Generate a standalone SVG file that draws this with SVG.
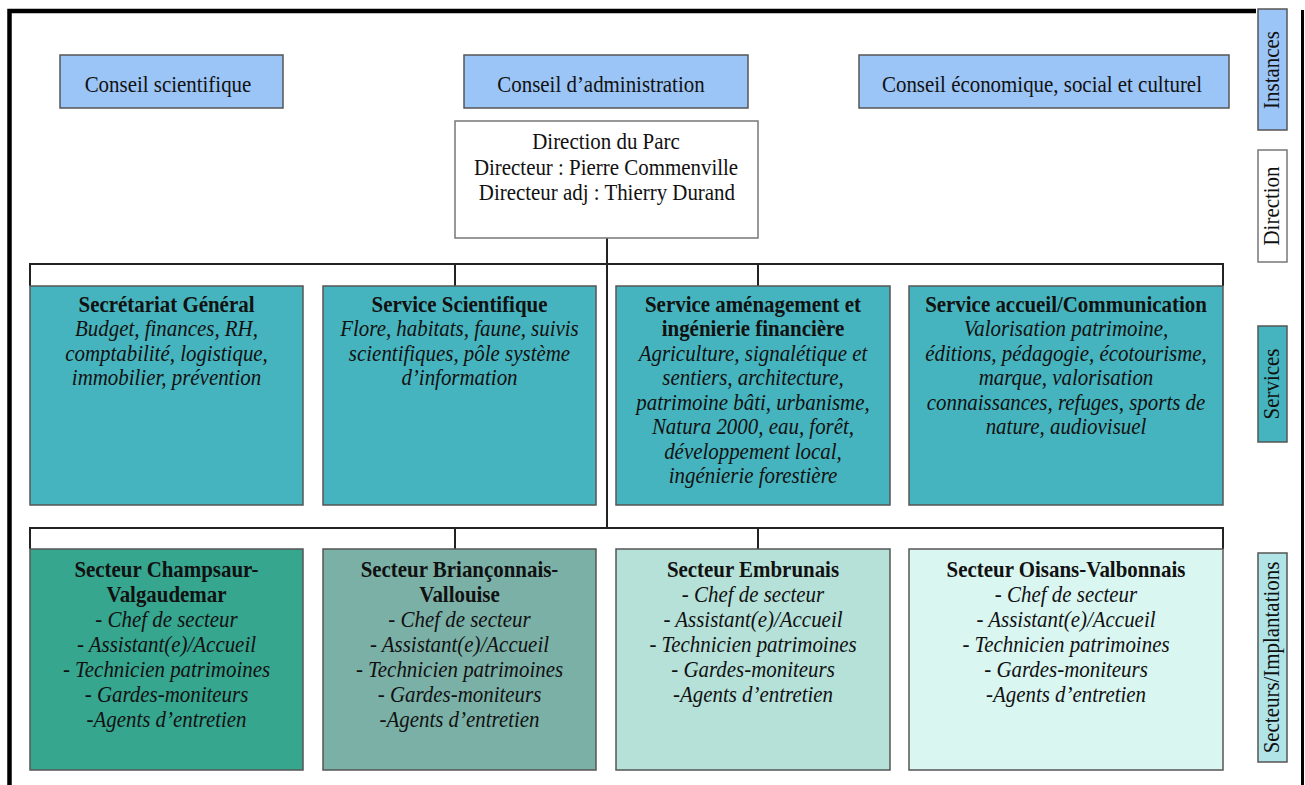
<svg xmlns="http://www.w3.org/2000/svg" width="1305" height="785" viewBox="0 0 1305 785">
<style>
text{font-family:"Liberation Serif","Times New Roman",serif;font-size:23px;fill:#111;text-anchor:middle}
.b{font-weight:bold}
.i{font-style:italic}
.box{stroke:#555;stroke-width:1.5}
.inst{fill:#9cc5f7}
.dir{fill:#fff;stroke:#777}
.svc{fill:#46b4be}
.s1{fill:#36a68f}
.s2{fill:#7bb0a7}
.s3{fill:#b5e1d9}
.s4{fill:#d9f6f1}
.sec{fill:#b0e4e7}
.c{stroke:#222;stroke-width:2;fill:none}
.frame{stroke:#000;fill:none}
</style>
<rect x="0" y="0" width="1305" height="785" fill="#fff"/>
<g id="frame">
<path class="frame" stroke-width="4.5" d="M9.5 785 V11 H1256"/>
<path class="frame" stroke-width="3" d="M1302.5 10 V785"/>
</g>
<g id="connectors">
<line class="c" x1="607" y1="238" x2="607" y2="528"/>
<path class="c" d="M30 286 V264 H1223 V286"/>
<line class="c" x1="455" y1="264" x2="455" y2="286"/>
<line class="c" x1="758" y1="264" x2="758" y2="286"/>
<path class="c" d="M30 549 V528 H1223 V549"/>
<line class="c" x1="455" y1="528" x2="455" y2="549"/>
<line class="c" x1="758" y1="528" x2="758" y2="549"/>
</g>
<g id="conseil-scientifique">
<rect class="box inst" x="60" y="55" width="223" height="53"/>
<g transform="matrix(0.91 0 0 1 15.12 0)"><text x="168" y="92">Conseil scientifique</text></g>
</g>
<g id="conseil-administration">
<rect class="box inst" x="464" y="55" width="284" height="53"/>
<g transform="matrix(0.91 0 0 1 54.09 0)"><text x="601" y="92">Conseil d’administration</text></g>
</g>
<g id="conseil-economique">
<rect class="box inst" x="859" y="55" width="370" height="53"/>
<g transform="matrix(0.91 0 0 1 93.78 0)"><text x="1042" y="92">Conseil économique, social et culturel</text></g>
</g>
<g id="direction">
<rect class="box dir" x="455" y="121" width="303" height="117"/>
<g transform="matrix(0.91 0 0 1 54.54 0)">
<text x="606" y="149">Direction du Parc</text>
<text x="606" y="175">Directeur : Pierre Commenville</text>
<text x="607" y="200">Directeur adj : Thierry Durand</text>
</g>
</g>
<g id="secretariat">
<rect class="box svc" x="30" y="286" width="273" height="219"/>
<g transform="matrix(0.91 0 0 1 14.985 0)">
<text class="b" x="166.5" y="312">Secrétariat Général</text>
<text class="i" x="166.5" y="336.5">Budget, finances, RH,</text>
<text class="i" x="166.5" y="361">comptabilité, logistique,</text>
<text class="i" x="166.5" y="385.5">immobilier, prévention</text>
</g>
</g>
<g id="service-scientifique">
<rect class="box svc" x="323" y="286" width="273" height="219"/>
<g transform="matrix(0.91 0 0 1 41.355 0)">
<text class="b" x="459.5" y="312">Service Scientifique</text>
<text class="i" x="459.5" y="336.5">Flore, habitats, faune, suivis</text>
<text class="i" x="459.5" y="361">scientifiques, pôle système</text>
<text class="i" x="459.5" y="385.5">d’information</text>
</g>
</g>
<g id="service-amenagement">
<rect class="box svc" x="616" y="286" width="274" height="219"/>
<g transform="matrix(0.91 0 0 1 67.77 0)">
<text class="b" x="753" y="312">Service aménagement et</text>
<text class="b" x="753" y="336.5">ingénierie financière</text>
<text class="i" x="753" y="361">Agriculture, signalétique et</text>
<text class="i" x="753" y="385.5">sentiers, architecture,</text>
<text class="i" x="753" y="410">patrimoine bâti, urbanisme,</text>
<text class="i" x="753" y="434.5">Natura 2000, eau, forêt,</text>
<text class="i" x="753" y="459">développement local,</text>
<text class="i" x="753" y="483.5">ingénierie forestière</text>
</g>
</g>
<g id="service-accueil">
<rect class="box svc" x="909" y="286" width="314" height="219"/>
<g transform="matrix(0.91 0 0 1 95.94 0)">
<text class="b" x="1066" y="312">Service accueil/Communication</text>
<text class="i" x="1066" y="336.5">Valorisation patrimoine,</text>
<text class="i" x="1066" y="361">éditions, pédagogie, écotourisme,</text>
<text class="i" x="1066" y="385.5">marque, valorisation</text>
<text class="i" x="1066" y="410">connaissances, refuges, sports de</text>
<text class="i" x="1066" y="434.5">nature, audiovisuel</text>
</g>
</g>
<g id="secteur-champsaur">
<rect class="box s1" x="30" y="549" width="273" height="221"/>
<g transform="matrix(0.91 0 0 1 14.985 0)">
<text class="b" x="166.5" y="577">Secteur Champsaur-</text>
<text class="b" x="166.5" y="602">Valgaudemar</text>
<text class="i" x="166.5" y="627">- Chef de secteur</text>
<text class="i" x="166.5" y="652">- Assistant(e)/Accueil</text>
<text class="i" x="166.5" y="677">- Technicien patrimoines</text>
<text class="i" x="166.5" y="702">- Gardes-moniteurs</text>
<text class="i" x="166.5" y="727">-Agents d’entretien</text>
</g>
</g>
<g id="secteur-brianconnais">
<rect class="box s2" x="323" y="549" width="273" height="221"/>
<g transform="matrix(0.91 0 0 1 41.355 0)">
<text class="b" x="459.5" y="577">Secteur Briançonnais-</text>
<text class="b" x="459.5" y="602">Vallouise</text>
<text class="i" x="459.5" y="627">- Chef de secteur</text>
<text class="i" x="459.5" y="652">- Assistant(e)/Accueil</text>
<text class="i" x="459.5" y="677">- Technicien patrimoines</text>
<text class="i" x="459.5" y="702">- Gardes-moniteurs</text>
<text class="i" x="459.5" y="727">-Agents d’entretien</text>
</g>
</g>
<g id="secteur-embrunais">
<rect class="box s3" x="616" y="549" width="274" height="221"/>
<g transform="matrix(0.91 0 0 1 67.77 0)">
<text class="b" x="753" y="577">Secteur Embrunais</text>
<text class="i" x="753" y="602">- Chef de secteur</text>
<text class="i" x="753" y="627">- Assistant(e)/Accueil</text>
<text class="i" x="753" y="652">- Technicien patrimoines</text>
<text class="i" x="753" y="677">- Gardes-moniteurs</text>
<text class="i" x="753" y="702">-Agents d’entretien</text>
</g>
</g>
<g id="secteur-oisans">
<rect class="box s4" x="909" y="549" width="314" height="221"/>
<g transform="matrix(0.91 0 0 1 95.94 0)">
<text class="b" x="1066" y="577">Secteur Oisans-Valbonnais</text>
<text class="i" x="1066" y="602">- Chef de secteur</text>
<text class="i" x="1066" y="627">- Assistant(e)/Accueil</text>
<text class="i" x="1066" y="652">- Technicien patrimoines</text>
<text class="i" x="1066" y="677">- Gardes-moniteurs</text>
<text class="i" x="1066" y="702">-Agents d’entretien</text>
</g>
</g>
<g id="label-instances">
<rect class="box inst" x="1258" y="9" width="29" height="121"/>
<text transform="translate(1279 70) rotate(-90) scale(0.91 1)">Instances</text>
</g>
<g id="label-direction">
<rect class="box dir" x="1258" y="150" width="29" height="112"/>
<text transform="translate(1279 206) rotate(-90) scale(0.91 1)">Direction</text>
</g>
<g id="label-services">
<rect class="box svc" x="1258" y="326" width="29" height="116"/>
<text transform="translate(1279 384) rotate(-90) scale(0.91 1)">Services</text>
</g>
<g id="label-secteurs">
<rect class="box sec" x="1258" y="553" width="29" height="209"/>
<text transform="translate(1279 657.5) rotate(-90) scale(0.91 1)">Secteurs/Implantations</text>
</g>
</svg>
